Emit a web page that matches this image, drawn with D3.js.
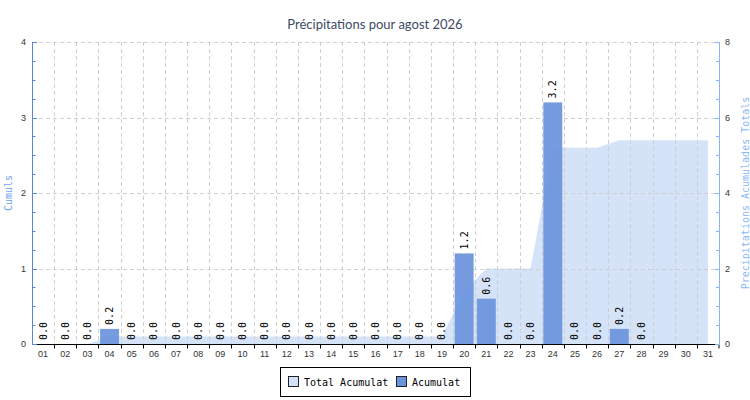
<!DOCTYPE html>
<html><head><meta charset="utf-8">
<script src="https://cdn.jsdelivr.net/npm/d3@7"></script>
<style>body{margin:0;background:#fff}svg{display:block}</style>
</head><body>
<svg id="c" width="750" height="400"></svg>
<script>
const days = ["01","02","03","04","05","06","07","08","09","10","11","12","13","14","15","16","17","18","19","20","21","22","23","24","25","26","27","28","29","30","31"];
const daily = [0,0,0,0.2,0,0,0,0,0,0,0,0,0,0,0,0,0,0,0,1.2,0.6,0,0,3.2,0,0,0.2,0,null,null,null];
const cumul = [0,0,0,0.2,0.2,0.2,0.2,0.2,0.2,0.2,0.2,0.2,0.2,0.2,0.2,0.2,0.2,0.2,0.2,1.4,2.0,2.0,2.0,5.2,5.2,5.2,5.4,5.4,5.4,5.4,5.4];
const leftTicks = [0,1,2,3,4];
const rightTicks = [0,2,4,6,8];
const title = "Précipitations pour agost 2026";
const leftTitle = "Cumuls";
const rightTitle = "Precipitations Acumulades Totals";
const legendItems = ["Total Acumulat","Acumulat"];

const W=750,H=400, m={l:32,r:31,t:42,b:56};
const svg=d3.select("#c");
const x=d3.scaleBand().domain(days).range([m.l,W-m.r]).paddingInner(0).paddingOuter(0);
const yL=d3.scaleLinear().domain([0,4]).range([H-m.b,m.t]);
const yR=d3.scaleLinear().domain([0,8]).range([H-m.b,m.t]);
const mono="'DejaVu Sans Mono', monospace";
const sans="'Liberation Sans', Arial, sans-serif";
const barColor="#6a94dc", areaColor="#d3e1f9";

// area
const area=d3.area().x((d,i)=>x(days[i])+x.bandwidth()/2).y0(yR(0)).y1(d=>yR(d)).curve(d3.curveLinear);
svg.append("path").datum(cumul).attr("d",area).attr("fill",areaColor).attr("fill-opacity",0.95);

// grid
const g=svg.append("g").attr("stroke","#cfcfcf").attr("stroke-dasharray","4,3").attr("stroke-width",1);
leftTicks.filter(t=>t>0).forEach(t=>g.append("line").attr("x1",m.l).attr("x2",W-m.r).attr("y1",Math.round(yL(t))+0.5).attr("y2",Math.round(yL(t))+0.5));
days.slice(1).forEach(d=>{const xx=Math.round(x(d))+0.5;g.append("line").attr("x1",xx).attr("x2",xx).attr("y1",m.t).attr("y2",H-m.b);});

// bars
const bw=x.bandwidth(), pad=1.6;
svg.append("g").selectAll("rect").data(daily.map((v,i)=>({v,d:days[i]})).filter(o=>o.v!==null&&o.v>0))
 .join("rect").attr("x",o=>x(o.d)+pad).attr("width",bw-2*pad)
 .attr("y",o=>yL(o.v)).attr("height",o=>yL(0)-yL(o.v)).attr("fill",barColor).attr("fill-opacity",0.92);

// value labels
svg.append("g").selectAll("text").data(daily.map((v,i)=>({v,d:days[i]})).filter(o=>o.v!==null))
 .join("text").attr("transform",o=>`translate(${x(o.d)+bw/2},${yL(o.v)-4}) rotate(-90)`)
 .attr("dy","0.35em").attr("font-family",mono).attr("font-size",10).attr("fill","#000")
 .text(o=>o.v.toFixed(1));

// x axis
const xa=svg.append("g").attr("transform",`translate(0,${H-m.b+0.5})`);
xa.append("line").attr("x1",m.l).attr("x2",W-m.r).attr("stroke","#000");
days.forEach((d,i)=>{ if(i>0){const xx=Math.round(x(d))+0.5; xa.append("line").attr("x1",xx).attr("x2",xx).attr("y1",0).attr("y2",4).attr("stroke","#000");}});
xa.append("line").attr("x1",W-m.r).attr("x2",W-m.r).attr("y1",0).attr("y2",4).attr("stroke","#000");
xa.selectAll("text").data(days).join("text").attr("x",d=>x(d)+bw/2).attr("y",12)
 .attr("text-anchor","middle").attr("font-family",sans).attr("font-size",9).attr("fill","#333").text(d=>d);

// left axis
const la=svg.append("g");
la.append("line").attr("x1",m.l+0.5).attr("x2",m.l+0.5).attr("y1",m.t).attr("y2",H-m.b).attr("stroke","#5b86d6");
d3.range(0,4.001,0.25).forEach(t=>{const yy=Math.round(yL(t))+0.5; const major=Math.abs(t-Math.round(t))<1e-6;
 la.append("line").attr("x1",m.l).attr("x2",m.l+(major?5:3.5)).attr("y1",yy).attr("y2",yy).attr("stroke","#5b86d6");});
la.selectAll("text").data(leftTicks).join("text").attr("x",m.l-6).attr("y",d=>yL(d)).attr("dy","0.35em")
 .attr("text-anchor","end").attr("font-family",sans).attr("font-size",9).attr("fill","#333").text(d=>d);

// right axis
const ra=svg.append("g"), rx=W-m.r;
ra.append("line").attr("x1",rx+0.5).attr("x2",rx+0.5).attr("y1",m.t).attr("y2",H-m.b).attr("stroke","#8ab4f8");
d3.range(0,8.001,0.5).forEach(t=>{const yy=Math.round(yR(t))+0.5; const major=Math.abs(t/2-Math.round(t/2))<1e-6;
 ra.append("line").attr("x1",rx-(major?4:3)).attr("x2",rx).attr("y1",yy).attr("y2",yy).attr("stroke","#8ab4f8");});
ra.selectAll("text").data(rightTicks).join("text").attr("x",rx+6).attr("y",d=>yR(d)).attr("dy","0.35em")
 .attr("font-family",sans).attr("font-size",9).attr("fill","#333").text(d=>d);

// axis titles
const midY=(m.t+H-m.b)/2;
svg.append("text").attr("transform",`translate(8,${midY}) rotate(-90)`).attr("dy","0.35em").attr("text-anchor","middle")
 .attr("font-family",mono).attr("font-size",10).attr("fill","#6fa4f2").text(leftTitle);
svg.append("text").attr("transform",`translate(745,${midY}) rotate(-90)`).attr("dy","0.35em").attr("text-anchor","middle")
 .attr("font-family",mono).attr("font-size",10).attr("fill","#8ab8f8").text(rightTitle);

// title
svg.append("text").attr("x",375).attr("y",29).attr("text-anchor","middle").attr("font-family","Lato, 'Noto Sans', sans-serif")
 .attr("font-size",13).attr("fill","#3d4a63").text(title);

// legend
const lg=svg.append("g");
lg.append("rect").attr("x",280.5).attr("y",367.5).attr("width",190).attr("height",29).attr("fill","#fff").attr("stroke","#000");
const sw=[{c:areaColor,x:288},{c:barColor,x:396}];
const tx=[304,412];
legendItems.forEach((t,i)=>{
 lg.append("rect").attr("x",sw[i].x+0.5).attr("y",376.5).attr("width",10).attr("height",10).attr("fill",sw[i].c).attr("stroke","#222");
 lg.append("text").attr("x",tx[i]).attr("y",382).attr("dy","0.35em").attr("font-family",mono).attr("font-size",10).attr("fill","#000").text(t);
});
</script>
</body></html>
